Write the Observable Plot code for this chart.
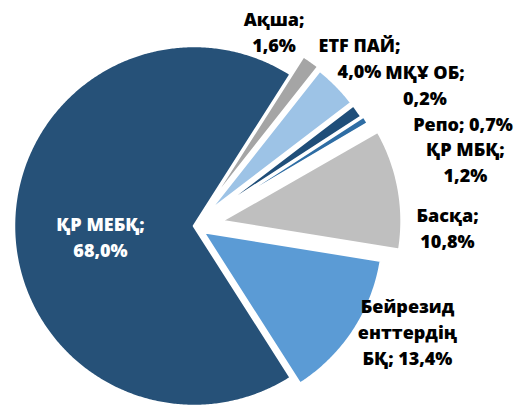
<!DOCTYPE html>
<html><head><meta charset="utf-8">
<script src="https://cdn.jsdelivr.net/npm/d3@7"></script>
<script src="https://cdn.jsdelivr.net/npm/@observablehq/plot@0.6"></script>
<style>html,body{margin:0;padding:0;background:#fff}#chart{width:519px;height:408px}</style>
</head><body><div id="chart"></div>
<script>
// ---- data ----
const categories = ["ҚР МЕБҚ", "Ақша", "ETF ПАЙ", "ҚР МБҚ", "Репо", "МҚҰ ОБ", "Басқа", "Бейрезиденттердің БҚ"];
const shares = [68.0, 1.6, 4.0, 1.2, 0.7, 0.2, 10.8, 13.4];
const labelTexts = ["ҚР МЕБҚ;\n68,0%", "Ақша;\n1,6%", "ETF ПАЙ;\n4,0%", "ҚР МБҚ;\n1,2%", "Репо; 0,7%", "МҚҰ ОБ;\n0,2%", "Басқа;\n10,8%", "Бейрезид\nенттердің\nБҚ; 13,4%"];

// ---- style / layout ----
const colors = ["#265178", "#a5a5a5", "#9dc3e6", "#1f4e79", "#2e6da4", "#264478", "#bfbfbf", "#5b9bd5"];
const labelColors = ["#ffffff", "#000", "#000", "#000", "#000", "#000", "#000", "#000"];
const W = 519, H = 408, R = 180, CX = 194, CY = 226;
const explode = [0, 22, 20, 20, 22, 22, 28, 11];
const labelRadius = [0.5, 1, 1, 1, 1, 1, 1, 1];
const labelShift = [[-4, 9.5], [-37.4, -31.4], [22.4, -29.3], [107.4, 49.7], [96.7, 2.3], [55.7, -41.1], [48.3, 37.7], [53.3, -0.9]];
const startDeg = 147.45;

const rad = Math.PI / 180;
const pie = d3.pie().sort(null).value(d => d)
  .startAngle(startDeg * rad).endAngle((startDeg + 360) * rad);
const arcs = pie(shares);

const rows = [];
const labels = [];
arcs.forEach((a, i) => {
  const mid = (a.startAngle + a.endAngle) / 2;
  const ox = explode[i] * Math.sin(mid), oy = explode[i] * Math.cos(mid);
  const n = Math.max(2, Math.ceil((a.endAngle - a.startAngle) / (0.5 * rad)));
  for (let k = 0; k <= n; k++) {
    const t = a.startAngle + (a.endAngle - a.startAngle) * k / n;
    rows.push({key: categories[i], x: ox + R * Math.sin(t), y: oy + R * Math.cos(t), cx: ox, cy: oy});
  }
  const lr = labelRadius[i] * R;
  labels.push({
    text: labelTexts[i],
    color: labelColors[i],
    x: ox + lr * Math.sin(mid) + labelShift[i][0],
    y: oy + lr * Math.cos(mid) - labelShift[i][1]
  });
});

const chart = Plot.plot({
  width: W, height: H,
  margin: 0,
  x: {domain: [-CX, W - CX], axis: null},
  y: {domain: [-(H - CY), CY], axis: null},
  color: {domain: categories, range: colors},
  style: {background: "#fff"},
  marks: [
    Plot.area(rows, {x1: "x", y1: "y", x2: "cx", y2: "cy", z: "key", fill: "key",
      stroke: "white", strokeWidth: 2.5, strokeLinejoin: "round", curve: "linear"}),
    Plot.text(labels, {x: "x", y: "y", text: "text", fill: "color",
      fontFamily: "'Open Sans', sans-serif", fontWeight: 800, fontSize: 18, lineHeight: 1.44,
      textAnchor: "middle"})
  ]
});
document.getElementById("chart").appendChild(chart);
</script>
</body></html>
